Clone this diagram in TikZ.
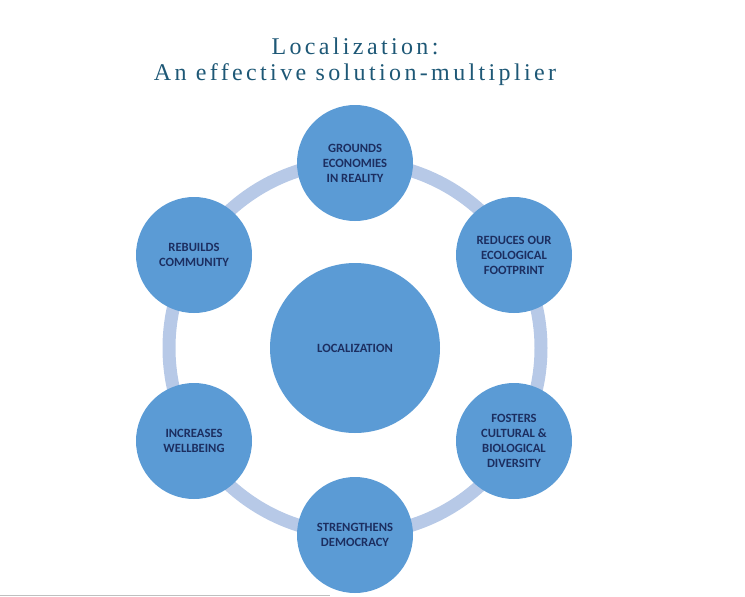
\documentclass[tikz,border=0pt]{standalone}
\usepackage{fontspec}
\setmainfont{Liberation Serif}
\newfontfamily\labelfont{Carlito}
\newfontfamily\titlefont[LetterSpace=14]{Liberation Serif}
\definecolor{ringblue}{RGB}{183,201,231}
\definecolor{fillblue}{RGB}{91,155,213}
\definecolor{textnavy}{RGB}{28,46,96}
\definecolor{titleteal}{RGB}{30,88,118}
\begin{document}
\begin{tikzpicture}[x=1pt,y=1pt,
  bubble/.style={circle,fill=fillblue,minimum size=116pt,inner sep=0pt,align=center,
    text=textnavy,font=\labelfont\bfseries\fontsize{12.6}{15}\selectfont},
  bigbubble/.style={bubble,minimum size=170pt},
  ring/.style={draw=ringblue,line width=13pt}]
\useasboundingbox (0,0) rectangle (745,-597);
\node[font=\titlefont\fontsize{24}{26}\selectfont,text=titleteal,align=center] (title) at (355,-62)
  {Localization:\\An effective solution-multiplier};
\coordinate (c) at (355,-348);
\draw[ring] (c) circle (186);
\node[bigbubble] (loc) at (c) {LOCALIZATION};
\node[bubble] (top) at (355,-163) {GROUNDS\\ECONOMIES\\IN REALITY};
\node[bubble] (tr) at (514,-255) {REDUCES OUR\\ECOLOGICAL\\FOOTPRINT};
\node[bubble] (br) at (514,-441) {FOSTERS\\CULTURAL \&\\BIOLOGICAL\\DIVERSITY};
\node[bubble] (bot) at (355,-535) {STRENGTHENS\\DEMOCRACY};
\node[bubble] (bl) at (194,-441) {INCREASES\\WELLBEING};
\node[bubble] (tl) at (194,-255) {REBUILDS\\COMMUNITY};
\coordinate (l0) at (0,-595.5);
\coordinate (l1) at (330,-595.5);
\draw[gray!50,line width=1pt] (l0) -- (l1);
\end{tikzpicture}
\end{document}
